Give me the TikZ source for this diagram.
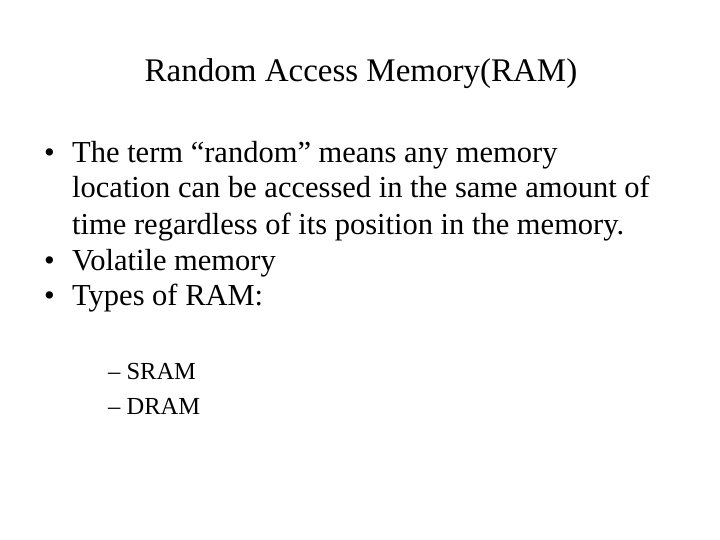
\documentclass[tikz,border=0pt]{standalone}
\usepackage{fontspec}
\setmainfont{Liberation Serif}
\begin{document}
\begin{tikzpicture}[x=1pt,y=-1pt,
  body/.style={anchor=base west,inner sep=0pt,font=\fontsize{30.5}{36}\selectfont},
  sub/.style={anchor=base west,inner sep=0pt,font=\fontsize{24.5}{28}\selectfont}]
\useasboundingbox[fill=white] (0,0) rectangle (720,540);
\node[anchor=base,inner sep=0pt,font=\fontsize{33}{36}\selectfont] (title) at (361,82) {Random Access Memory(RAM)};
\node[body] (b1) at (44,163) {•};
\node[body] (t1) at (72,163) {The term “random” means any memory};
\node[body] (t2) at (72,198) {location can be accessed in the same amount of};
\node[body] (t3) at (72,234) {time regardless of its position in the memory.};
\node[body] (b2) at (44,270) {•};
\node[body] (t4) at (72,270) {Volatile memory};
\node[body] (b3) at (44,305) {•};
\node[body] (t5) at (72,305) {Types of RAM:};
\node[sub] (s1) at (108,379) {– SRAM};
\node[sub] (s2) at (108,414) {– DRAM};
\end{tikzpicture}
\end{document}
